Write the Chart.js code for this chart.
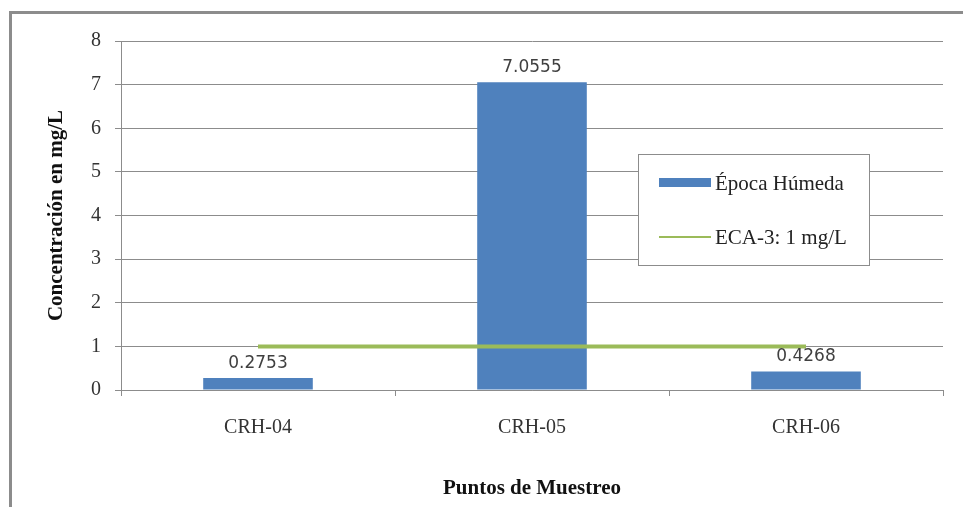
<!DOCTYPE html>
<html>
<head>
<meta charset="utf-8">
<script src="https://cdn.jsdelivr.net/npm/chart.js@4"></script>
<style>
  body { margin: 0; background: #fff; }
  #frame { position: absolute; left: 9px; top: 11px; width: 1000px; height: 600px;
           border-left: 3px solid #8c8c8c; border-top: 3px solid #8c8c8c; }
  #myChart { position: absolute; left: 0; top: 0; }
</style>
</head>
<body>
<div id="frame"></div>
<canvas id="myChart" width="963" height="507"></canvas>
<script>
const puntos = ["CRH-04", "CRH-05", "CRH-06"];
const epocaHumeda = [0.2753, 7.0555, 0.4268];
const eca3 = [1, 1, 1];
const yTicks = [0, 1, 2, 3, 4, 5, 6, 7, 8];

const gridColor = "#8c8c8c";
const serif = "'Liberation Serif', 'Times New Roman', serif";

// etiquetas de valor encima de las barras
const barLabels = {
  id: "barLabels",
  afterDatasetsDraw(chart) {
    const ctx = chart.ctx;
    const meta = chart.getDatasetMeta(1);
    ctx.save();
    ctx.font = "17px 'DejaVu Sans', sans-serif";
    ctx.fillStyle = "#404040";
    ctx.textAlign = "center";
    ctx.textBaseline = "bottom";
    meta.data.forEach((bar, i) => {
      ctx.fillText(epocaHumeda[i].toFixed(4), bar.x, bar.y - 6);
    });
    ctx.restore();
  },
};

// leyenda dentro del grafico
const boxLegend = {
  id: "boxLegend",
  afterDraw(chart) {
    const ctx = chart.ctx;
    const x = 638, y = 154, w = 231, h = 111;
    ctx.save();
    ctx.fillStyle = "#fff";
    ctx.fillRect(x, y, w, h);
    ctx.strokeStyle = gridColor;
    ctx.lineWidth = 1;
    ctx.strokeRect(x + 0.5, y + 0.5, w, h);

    ctx.fillStyle = "#4F81BD";
    ctx.fillRect(x + 21, y + 24, 52, 9);
    ctx.strokeStyle = "#9BBB59";
    ctx.lineWidth = 2;
    ctx.beginPath();
    ctx.moveTo(x + 21, y + 83);
    ctx.lineTo(x + 73, y + 83);
    ctx.stroke();

    ctx.fillStyle = "#222";
    ctx.font = "21px " + serif;
    ctx.textBaseline = "middle";
    ctx.fillText(chart.data.datasets[1].label, x + 77, y + 30);
    ctx.fillText(chart.data.datasets[0].label, x + 77, y + 84);
    ctx.restore();
  },
};

new Chart(document.getElementById("myChart"), {
  data: {
    labels: puntos,
    datasets: [
      {
        type: "line",
        label: "ECA-3: 1 mg/L",
        data: eca3,
        borderColor: "#9BBB59",
        borderWidth: 4,
        pointRadius: 0,
        order: 0,
      },
      {
        type: "bar",
        label: "Época Húmeda",
        data: epocaHumeda,
        backgroundColor: "#4F81BD",
        barPercentage: 0.4,
        categoryPercentage: 1.0,
        order: 1,
      },
    ],
  },
  options: {
    responsive: false,
    animation: false,
    layout: { padding: { left: 0, right: 20, top: 41, bottom: 0 } },
    plugins: {
      legend: { display: false },
      tooltip: { enabled: false },
    },
    scales: {
      x: {
        offset: true,
        grid: { drawOnChartArea: false, tickLength: 6, color: gridColor, offset: true },
        border: { color: gridColor },
        ticks: { color: "#333", font: { family: serif, size: 20 }, padding: 20 },
        title: {
          display: true,
          text: "Puntos de Muestreo",
          color: "#111",
          font: { family: serif, size: 21, weight: "bold" },
          padding: { top: 0, bottom: 6 },
        },
        afterFit(scale) { scale.height = 117; },
      },
      y: {
        min: 0,
        max: 8,
        afterBuildTicks(scale) { scale.ticks = yTicks.map(v => ({ value: v })); },
        grid: { tickLength: 6, color: gridColor },
        border: { color: gridColor },
        ticks: { color: "#333", font: { family: serif, size: 20 }, padding: 14 },
        title: {
          display: true,
          text: "Concentración en mg/L",
          color: "#111",
          font: { family: serif, size: 21, weight: "bold" },
          padding: { top: 44, bottom: 0 },
        },
        afterFit(scale) { scale.width = 121; },
      },
    },
  },
  plugins: [barLabels, boxLegend],
});
</script>
</body>
</html>
